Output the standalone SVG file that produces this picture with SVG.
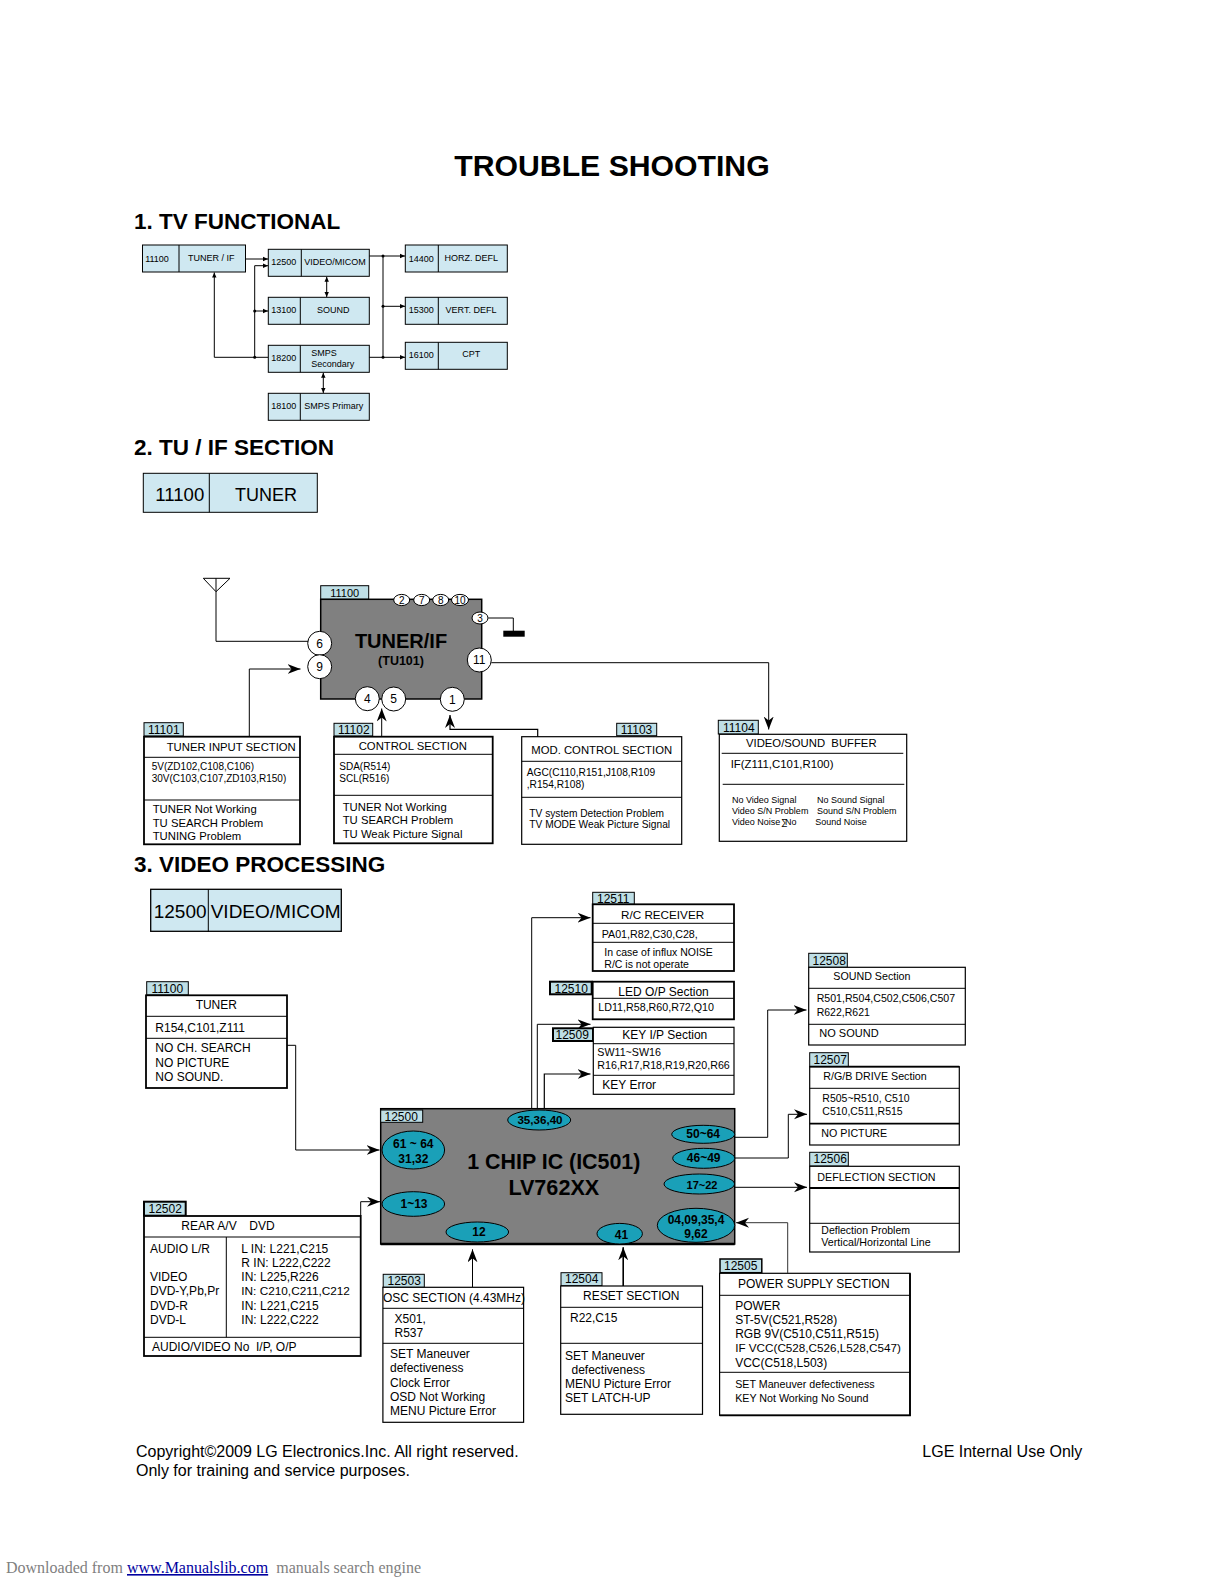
<svg xmlns="http://www.w3.org/2000/svg" width="1224" height="1584" viewBox="0 0 1224 1584">
<style>
text{font-family:"Liberation Sans",Arial,sans-serif;fill:#000}
.h1{font-size:30.2px;font-weight:bold;text-anchor:middle}
.h2{font-size:22.5px;font-weight:bold}
.s9{font-size:9px}.c{text-anchor:middle}
.s9c{font-size:9px;text-anchor:middle}
.s10{font-size:10px}.s102{font-size:10.2px}.s105{font-size:10.5px}.s107{font-size:10.7px}.s11{font-size:11px}.s113{font-size:11.3px}.s12{font-size:12px}
.s16{font-size:16px}
.blue{fill:#cfe8f1;stroke:#000;stroke-width:1}
.lab{fill:#bfdfe6;stroke:#000;stroke-width:1}
.lab2{fill:#bfdfe6;stroke:#000;stroke-width:2}
.box{fill:#fff;stroke:#000;stroke-width:1.2}
.boxb{fill:#fff;stroke:#000;stroke-width:1.8}
.div{fill:none;stroke:#000;stroke-width:1}
.ic{fill:#808080;stroke:#000;stroke-width:1.5}
.pin{fill:#fff;stroke:#000;stroke-width:1}
.ell{fill:#1aa0b8;stroke:#000;stroke-width:1}
.et{font-size:12px;font-weight:bold;text-anchor:middle}
.cn{fill:none;stroke:#000;stroke-width:1}
.cnt{fill:none;stroke:#000;stroke-width:1.2}
.a1{marker-end:url(#sm)}
.a2{marker-end:url(#sm);marker-start:url(#smr)}
.a3{marker-end:url(#big)}
</style>
<defs>
<marker id="sm" markerUnits="userSpaceOnUse" markerWidth="6" markerHeight="6" refX="5" refY="3" orient="auto"><path d="M0,0.8 L5,3 L0,5.2 z" fill="#000"/></marker>
<marker id="smr" markerUnits="userSpaceOnUse" markerWidth="6" markerHeight="6" refX="0" refY="3" orient="auto"><path d="M5,0.8 L0,3 L5,5.2 z" fill="#000"/></marker>
<marker id="big" markerUnits="userSpaceOnUse" markerWidth="14" markerHeight="12" refX="13" refY="5" orient="auto"><path d="M0,0 L13,5 L0,10 L4,5 z" fill="#000"/></marker>
</defs>

<text class="h1" x="612" y="175.5">TROUBLE SHOOTING</text>
<text class="h2" x="134" y="229">1. TV FUNCTIONAL</text>
<text class="h2" x="134" y="455">2. TU / IF SECTION</text>
<text class="h2" x="134" y="872">3. VIDEO PROCESSING</text>

<g id="n-11100-top"><rect class="blue" x="142.5" y="245" width="103" height="27"/><path class="div" d="M179,245V272"/><text class="s9" x="145.2" y="261.5">11100</text><text class="s9c" x="211.3" y="261">TUNER / IF</text></g>
<g id="n-12500-top"><rect class="blue" x="268.3" y="249.3" width="101" height="27"/><path class="div" d="M301.3,249.3V276.3"/><text class="s9" x="271.3" y="265">12500</text><text class="s9c" x="335" y="265">VIDEO/MICOM</text></g>
<g id="n-13100-top"><rect class="blue" x="268.3" y="297.3" width="101" height="27"/><path class="div" d="M300.3,297.3V324.3"/><text class="s9" x="271.3" y="313">13100</text><text class="s9c" x="333.3" y="313">SOUND</text></g>
<g id="n-18200-top"><rect class="blue" x="268.3" y="345.3" width="101" height="27"/><path class="div" d="M300.3,345.3V372.3"/><text class="s9" x="271.3" y="361">18200</text><text class="s9" x="311.3" y="355.5">SMPS</text><text class="s9" x="311.3" y="367">Secondary</text></g>
<g id="n-18100-top"><rect class="blue" x="268.3" y="393.3" width="101" height="27"/><path class="div" d="M300.3,393.3V420.3"/><text class="s9" x="271.3" y="409">18100</text><text class="s9c" x="333.7" y="409">SMPS Primary</text></g>
<g id="n-14400-top"><rect class="blue" x="405.3" y="245" width="102" height="27"/><path class="div" d="M438.3,245V272"/><text class="s9" x="408.7" y="261.5">14400</text><text class="s9c" x="471.3" y="261">HORZ. DEFL</text></g>
<g id="n-15300-top"><rect class="blue" x="405.3" y="297.3" width="102" height="27"/><path class="div" d="M438.3,297.3V324.3"/><text class="s9" x="408.7" y="313">15300</text><text class="s9c" x="471" y="313">VERT. DEFL</text></g>
<g id="n-16100-top"><rect class="blue" x="405.3" y="342.3" width="102" height="27"/><path class="div" d="M438.3,342.3V369.3"/><text class="s9" x="408.7" y="358">16100</text><text class="s9c" x="471.3" y="357">CPT</text></g>

<g id="n-tuner-header"><rect class="blue" x="143.3" y="473.3" width="174" height="39"/><path class="div" d="M209.3,473.3V512.3"/><text style="font-size:18.6px" x="155.3" y="501">11100</text><text style="font-size:18px" x="235" y="501">TUNER</text></g>

<g id="n-tuner-if">
<rect class="lab" x="320.7" y="585.7" width="48" height="13.6"/><text class="s11" x="344.7" y="596.5" text-anchor="middle">11100</text>
<rect class="ic" x="320.7" y="599.3" width="161" height="99.7"/>
<text x="401" y="648" style="font-size:20px;font-weight:bold" text-anchor="middle">TUNER/IF</text>
<text x="401" y="665" style="font-size:12.5px;font-weight:bold" text-anchor="middle">(TU101)</text>
<g text-anchor="middle" font-size="10">
<ellipse class="pin" cx="401.7" cy="600" rx="8" ry="5.6"/><text x="401.7" y="603.5">2</text>
<ellipse class="pin" cx="421.7" cy="600" rx="8" ry="5.6"/><text x="421.7" y="603.5">7</text>
<ellipse class="pin" cx="440.7" cy="600" rx="8" ry="5.6"/><text x="440.7" y="603.5">8</text>
<ellipse class="pin" cx="460" cy="600" rx="8.5" ry="5.6"/><text x="460" y="603.5">10</text>
<ellipse class="pin" cx="480" cy="618" rx="8" ry="6"/><text x="480" y="621.5">3</text>
</g>
<g text-anchor="middle" font-size="12">
<circle class="pin" cx="319.7" cy="643.3" r="12"/><text x="319.7" y="647.5">6</text>
<circle class="pin" cx="319.7" cy="666.7" r="12"/><text x="319.7" y="671">9</text>
<circle class="pin" cx="479.3" cy="660" r="12"/><text x="479.3" y="664">11</text>
<circle class="pin" cx="367.3" cy="698.7" r="12"/><text x="367.3" y="703">4</text>
<circle class="pin" cx="393.7" cy="699" r="12"/><text x="393.7" y="703.3">5</text>
<circle class="pin" cx="452.3" cy="699.3" r="12"/><text x="452.3" y="703.5">1</text>
</g>
</g>

<g id="n-11101">
<rect class="lab" x="144" y="722.7" width="39.3" height="13.3"/><text class="s12" x="148" y="733.5">11101</text>
<rect class="boxb" x="144" y="736.7" width="156" height="107.6"/><path class="div" d="M144,757.3H300M144,800H300"/>
<text class="s113" x="166.7" y="750.7">TUNER INPUT SECTION</text>
<text class="s10" x="151.7" y="770">5V(ZD102,C108,C106)</text><text class="s10" x="151.7" y="781.7">30V(C103,C107,ZD103,R150)</text>
<text class="s113" x="152.7" y="813.3">TUNER Not Working</text><text class="s113" x="152.7" y="826.7">TU SEARCH Problem</text><text class="s113" x="152.7" y="840">TUNING Problem</text>
</g>
<g id="n-11102">
<rect class="lab" x="334" y="723.3" width="38.7" height="12.7"/><text class="s12" x="338" y="733.5">11102</text>
<rect class="boxb" x="334" y="736.7" width="158.7" height="106.6"/><path class="div" d="M334,754.3H492.7M334,795.3H492.7"/>
<text class="s113" x="358.7" y="750">CONTROL SECTION</text>
<text class="s10" x="339.3" y="770">SDA(R514)</text><text class="s10" x="339.3" y="782">SCL(R516)</text>
<text class="s113" x="342.7" y="811">TUNER Not Working</text><text class="s113" x="342.7" y="824">TU SEARCH Problem</text><text class="s113" x="342.7" y="838.3">TU Weak Picture Signal</text>
</g>
<g id="n-11103">
<rect class="lab" x="616.7" y="723.3" width="40" height="12.4"/><text class="s12" x="620.7" y="733.5">11103</text>
<rect class="box" x="521.7" y="736.7" width="160" height="107.6"/><path class="div" d="M521.7,761.3H681.7M521.7,797.3H681.7"/>
<text class="s113" x="531.3" y="754.3">MOD. CONTROL SECTION</text>
<text class="s102" x="526.7" y="775.7">AGC(C110,R151,J108,R109</text><text class="s102" x="526.7" y="788.3">,R154,R108)</text>
<text class="s102" x="529.3" y="816.7">TV system Detection Problem</text><text class="s102" x="529.3" y="828.3">TV MODE Weak Picture Signal</text>
</g>
<g id="n-11104">
<rect class="lab" x="718.3" y="720.3" width="40" height="13.7"/><text class="s12" x="723" y="731.5">11104</text>
<rect class="box" x="719.3" y="734.3" width="187.4" height="107"/><path class="div" d="M721.7,753.3H903.3M722.7,784.3H904.3"/>
<text class="s113" x="746" y="746.7">VIDEO/SOUND&#160; BUFFER</text>
<text style="font-size:11.4px" x="730.7" y="767.7">IF(Z111,C101,R100)</text>
<g font-size="9"><text x="732" y="802.7">No Video Signal</text><text x="817" y="802.7">No Sound Signal</text><text x="732" y="813.7">Video S/N Problem</text><text x="817" y="813.7">Sound S/N Problem</text><text x="732" y="824.7">Video Noise</text><text x="781" y="825">∑</text><text x="785" y="824.7">No</text><text x="815.3" y="824.7">Sound Noise</text></g>
</g>

<g id="n-12500-header"><rect class="blue" x="150.7" y="889.3" width="190.6" height="42" style="stroke-width:1.3"/><path class="div" d="M208.3,889.3V932"/><text style="font-size:19px" x="153.7" y="917.5">12500</text><text style="font-size:19px" x="210.7" y="917.5">VIDEO/MICOM</text></g>

<g id="n-12511">
<rect class="lab" x="592.7" y="892.3" width="41.6" height="12"/><text class="s12" x="597" y="903">12511</text>
<rect class="boxb" x="592.7" y="904.3" width="141.3" height="66.7"/><path class="div" d="M592.7,923.3H734M592.7,942.3H734"/>
<text style="font-size:11.7px" x="621" y="919">R/C RECEIVER</text><text class="s107" x="601.7" y="937.7">PA01,R82,C30,C28,</text>
<text class="s105" x="604.3" y="955.7">In case of influx NOISE</text><text class="s105" x="604.3" y="968.3">R/C is not operate</text>
</g>
<g id="n-12510">
<rect class="lab2" x="550" y="981.7" width="41.7" height="12.6"/><text class="s12" x="554.5" y="992.5">12510</text>
<rect class="boxb" x="592.7" y="981.7" width="141.3" height="37.6"/><path class="div" d="M592.7,998.3H734"/>
<text class="s12" x="618.3" y="995.7">LED O/P Section</text><text class="s107" x="598.3" y="1010.7">LD11,R58,R60,R72,Q10</text>
</g>
<g id="n-12509">
<rect class="lab2" x="553" y="1028.3" width="40" height="12.7"/><text class="s12" x="555.5" y="1038.5">12509</text>
<rect class="box" x="593.3" y="1027.3" width="140.7" height="67"/><path class="div" d="M593.3,1043.7H734M593.3,1075.3H734"/>
<text class="s12" x="622.3" y="1039">KEY I/P Section</text><text class="s107" x="597.3" y="1055.7">SW11~SW16</text><text class="s107" x="597.3" y="1069">R16,R17,R18,R19,R20,R66</text><text class="s12" x="602.3" y="1088.8">KEY Error</text>
</g>

<g id="n-ic501">
<rect class="ic" x="380.7" y="1108.7" width="354" height="135.3"/>
<path d="M380.7,1244H734.7" stroke="#000" stroke-width="2.5"/>
<rect class="lab" x="380.7" y="1110" width="42" height="12.3"/><text class="s12" x="384.5" y="1120.8">12500</text>
<text x="553.8" y="1169" style="font-size:21.4px;font-weight:bold" text-anchor="middle">1 CHIP IC (IC501)</text>
<text x="553.8" y="1195" style="font-size:21.6px;font-weight:bold" text-anchor="middle">LV762XX</text>
<ellipse class="ell" cx="539.2" cy="1120" rx="31.5" ry="10"/><text class="et" style="font-size:11.6px" x="540" y="1124">35,36,40</text>
<ellipse class="ell" cx="703.2" cy="1134.3" rx="31.5" ry="9"/><text class="et" x="703.2" y="1138.3">50~64</text>
<ellipse class="ell" cx="703.7" cy="1158.3" rx="31" ry="10"/><text class="et" x="703.7" y="1162">46~49</text>
<ellipse class="ell" cx="699.3" cy="1184" rx="35.3" ry="10"/><text class="et" style="font-size:11px" x="702" y="1188.5">17~22</text>
<ellipse class="ell" cx="696" cy="1225.3" rx="38.7" ry="17"/><text class="et" x="696" y="1224">04,09,35,4</text><text class="et" x="696" y="1238">9,62</text>
<ellipse class="ell" cx="413.3" cy="1150" rx="31.3" ry="19"/><text class="et" x="413.3" y="1148">61 ~ 64</text><text class="et" x="413.3" y="1163">31,32</text>
<ellipse class="ell" cx="413.3" cy="1204" rx="31.3" ry="12.3"/><text class="et" x="414" y="1208">1~13</text>
<ellipse class="ell" cx="477.3" cy="1232" rx="31.3" ry="10"/><text class="et" x="479" y="1236">12</text>
<ellipse class="ell" cx="619.7" cy="1233.7" rx="22.7" ry="10.3"/><text class="et" x="621.5" y="1239">41</text>
</g>

<g id="n-12508">
<rect class="lab" x="808.7" y="953.3" width="38.6" height="14"/><text class="s12" x="812.5" y="964.5">12508</text>
<rect class="box" x="808.7" y="967.3" width="156.6" height="77.7"/><path class="div" d="M808.7,988.3H965.3M808.7,1024.3H965.3"/>
<text class="s107" x="833.3" y="980">SOUND Section</text><text style="font-size:10.6px" x="816.7" y="1001.7">R501,R504,C502,C506,C507</text><text class="s105" x="816.7" y="1015.7">R622,R621</text><text class="s11" x="819.3" y="1037">NO SOUND</text>
</g>
<g id="n-12507">
<rect class="lab" x="809.7" y="1052.7" width="38.6" height="14"/><text class="s12" x="813.5" y="1063.8">12507</text>
<rect class="box" x="809.7" y="1066.7" width="149.6" height="78.3"/><path class="div" d="M809.7,1088.3H959.3"/><path d="M809.7,1066.7H959.3M809.7,1123.7H959.3" stroke="#000" stroke-width="1.8"/>
<text class="s107" x="823.3" y="1079.7">R/G/B DRIVE Section</text><text class="s105" x="822.3" y="1101.7">R505~R510, C510</text><text class="s105" x="822.3" y="1115">C510,C511,R515</text><text class="s107" x="821.3" y="1137">NO PICTURE</text>
</g>
<g id="n-12506">
<rect class="lab" x="809.7" y="1152.3" width="38.6" height="13.7"/><text class="s12" x="813.5" y="1163.3">12506</text>
<rect class="box" x="809.7" y="1166.3" width="149.6" height="85.7"/><path d="M809.7,1188H959.3" stroke="#000" stroke-width="1.8"/><path class="div" d="M809.7,1223.3H959.3"/>
<text class="s107" x="817.3" y="1180.7">DEFLECTION SECTION</text><text class="s105" x="821.3" y="1233.7">Deflection Problem</text><text class="s107" x="821.3" y="1246.3">Vertical/Horizontal Line</text>
</g>

<g id="n-11100-video">
<rect class="lab" x="146.7" y="981.7" width="41.6" height="13.3"/><text class="s12" x="151.5" y="992.5">11100</text>
<rect class="boxb" x="146" y="995.3" width="141" height="92.7"/><path class="div" d="M146,1016.3H287M146,1038.3H287"/>
<text class="s12 c" x="216.3" y="1009.3">TUNER</text><text class="s12" x="155.3" y="1032">R154,C101,Z111</text><text class="s12" x="155.3" y="1051.7">NO CH. SEARCH</text><text class="s12" x="155.3" y="1066.7">NO PICTURE</text><text class="s12" x="155.3" y="1081">NO SOUND.</text>
</g>
<g id="n-12502">
<rect class="lab2" x="144" y="1201.7" width="41.7" height="14"/><text class="s12" x="148.5" y="1212.8">12502</text>
<rect class="boxb" x="144" y="1216" width="216.7" height="140"/><path class="div" d="M144,1237H360.7M144,1337.3H360.7M226.3,1237V1337.3"/>
<text class="s12" x="181.3" y="1230">REAR A/V</text><text class="s12" x="249.3" y="1230">DVD</text>
<text class="s12" x="150" y="1252.7">AUDIO L/R</text><text class="s12" x="150" y="1280.7">VIDEO</text><text class="s12" x="150" y="1295">DVD-Y,Pb,Pr</text><text class="s12" x="150" y="1310">DVD-R</text><text class="s12" x="150" y="1324">DVD-L</text>
<text class="s12" x="241.3" y="1252.7">L IN: L221,C215</text><text class="s12" x="241.3" y="1266.7">R IN: L222,C222</text><text class="s12" x="241.3" y="1280.7">IN: L225,R226</text><text style="font-size:11.8px" x="241.3" y="1295">IN: C210,C211,C212</text><text class="s12" x="241.3" y="1310">IN: L221,C215</text><text class="s12" x="241.3" y="1324">IN: L222,C222</text>
<text class="s12" x="152" y="1351">AUDIO/VIDEO No&#160; I/P, O/P</text>
</g>
<g id="n-12503">
<rect class="lab" x="383.2" y="1274.3" width="41.1" height="13"/><text class="s12" x="387.5" y="1285">12503</text>
<rect class="box" x="382.9" y="1287.3" width="140.7" height="135"/><path class="div" d="M382.9,1308.3H523.6M382.9,1343.3H523.6"/>
<text class="s12" x="383" y="1301.7">OSC SECTION (4.43MHz)</text><text class="s12" x="394.5" y="1322.7">X501,</text><text class="s12" x="394.5" y="1336.7">R537</text>
<text class="s12" x="390" y="1358.3">SET Maneuver</text><text class="s12" x="390" y="1371.7">defectiveness</text><text class="s12" x="390" y="1386.7">Clock Error</text><text class="s12" x="390" y="1400.7">OSD Not Working</text><text class="s12" x="390" y="1415">MENU Picture Error</text>
</g>
<g id="n-12504">
<rect class="lab" x="561" y="1272.7" width="41" height="13"/><text class="s12" x="565" y="1283.3">12504</text>
<rect class="box" x="560.7" y="1286" width="141.8" height="128.3"/><path class="div" d="M560.7,1307.3H702.5M560.7,1343.3H702.5"/>
<text class="s12" x="583" y="1300">RESET SECTION</text><text class="s12" x="570" y="1321.7">R22,C15</text>
<text class="s12" x="565" y="1360">SET Maneuver</text><text class="s12" x="571.5" y="1374">defectiveness</text><text class="s12" x="565" y="1387.7">MENU Picture Error</text><text class="s12" x="565" y="1401.7">SET LATCH-UP</text>
</g>
<g id="n-12505">
<rect class="lab" x="720" y="1259" width="41.8" height="13.7" style="stroke-width:1.5"/><text class="s12" x="724" y="1270">12505</text>
<rect class="box" x="719.6" y="1273.3" width="190.4" height="142"/><path d="M910,1273.3V1415.3H719.6" fill="none" stroke="#000" stroke-width="1.8"/><path class="div" d="M719.6,1295.3H910M719.6,1372.3H910"/>
<text class="s12" x="738" y="1287.7">POWER SUPPLY SECTION</text><text class="s12" x="735.2" y="1310">POWER</text><text class="s12" x="735.2" y="1324">ST-5V(C521,R528)</text><text class="s12" x="735.2" y="1338.3">RGB 9V(C510,C511,R515)</text><text style="font-size:11.7px" x="735.2" y="1352.3">IF VCC(C528,C526,L528,C547)</text><text class="s12" x="735.2" y="1366.7">VCC(C518,L503)</text>
<text style="font-size:10.7px" x="735.2" y="1388.3">SET Maneuver defectiveness</text><text style="font-size:10.7px" x="735.2" y="1402">KEY Not Working No Sound</text>
</g>

<g id="connectors">
<path class="cn a1" d="M245.7,259H268"/>
<path class="cn a1" d="M268,357.3H214.3V272.5"/>
<path class="cn a1" d="M254.7,357.3V265.7H268"/>
<path class="cn a1" d="M254.7,311H268"/>
<path class="cn a2" d="M326.7,276.8V297"/>
<path class="cn a2" d="M323.3,372.8V393"/>
<path class="cn a1" d="M369.3,256H405"/>
<path class="cn a1" d="M369.3,357.3H405"/>
<path class="cn" d="M383,256V357.3"/>
<path class="cn a1" d="M383,306.3H405"/>
<circle cx="383" cy="256" r="1.5"/><circle cx="383" cy="306.3" r="1.5"/><circle cx="383" cy="357.3" r="1.5"/>
<circle cx="254.7" cy="311" r="1.5"/><circle cx="254.7" cy="357.3" r="1.5"/>

<path class="cn" d="M203.3,578.3H230L216,591.7z"/>
<path class="cn" d="M216,578.3V641.3H308"/>
<path class="cn" d="M488.3,618H513.3V631"/>
<rect x="503.3" y="630.7" width="21.4" height="6" fill="#000"/>
<path class="cn a3" d="M249.3,736V669H300.5"/>
<path class="cn a3" d="M381.7,736V708.5"/>
<path class="cnt a3" d="M537.7,736.7V729.3H450V715"/>
<path class="cn a3" d="M491.3,662.7H768.7V729.5"/>

<path class="cn a3" d="M531.7,1108V917.7H590.5"/>
<path class="cn a3" d="M537.3,1108V1024.3H590.5"/>
<path class="cnt a3" d="M544.3,1108V1074H590.5"/>
<path class="cn a3" d="M735,1137.3H767.7V1010H806.5"/>
<path class="cn a3" d="M735,1158H788.3V1114.3H807"/>
<path class="cn a3" d="M735,1187.3H807"/>
<path class="cn a3" d="M787.7,1273V1222.7H736" style="stroke:#333"/>
<path class="cn" d="M287,1045.3H295.7V1150"/>
<path class="cn a3" d="M295.7,1150H379.5"/>
<path class="cn a3" d="M360.7,1216V1201.7H380"/>
<path class="cn a3" d="M472.5,1287V1249.3"/>
<path style="fill:none;stroke:#000;stroke-width:1.6" class="a3" d="M623.2,1286V1247.3"/>
</g>

<text class="s16" x="136" y="1457">Copyright©2009 LG Electronics.Inc. All right reserved.</text>
<text class="s16" x="136" y="1476">Only for training and service purposes.</text>
<text class="s16" x="922.3" y="1457">LGE Internal Use Only</text>
<text style="font-family:'Liberation Serif',serif;font-size:16px;fill:#808080" x="6" y="1573">Downloaded from</text>
<text style="font-family:'Liberation Serif',serif;font-size:16px;fill:#0000a0;text-decoration:underline" x="127" y="1573">www.Manualslib.com</text>
<text style="font-family:'Liberation Serif',serif;font-size:16px;fill:#808080" x="276.3" y="1573">manuals search engine</text>
</svg>
